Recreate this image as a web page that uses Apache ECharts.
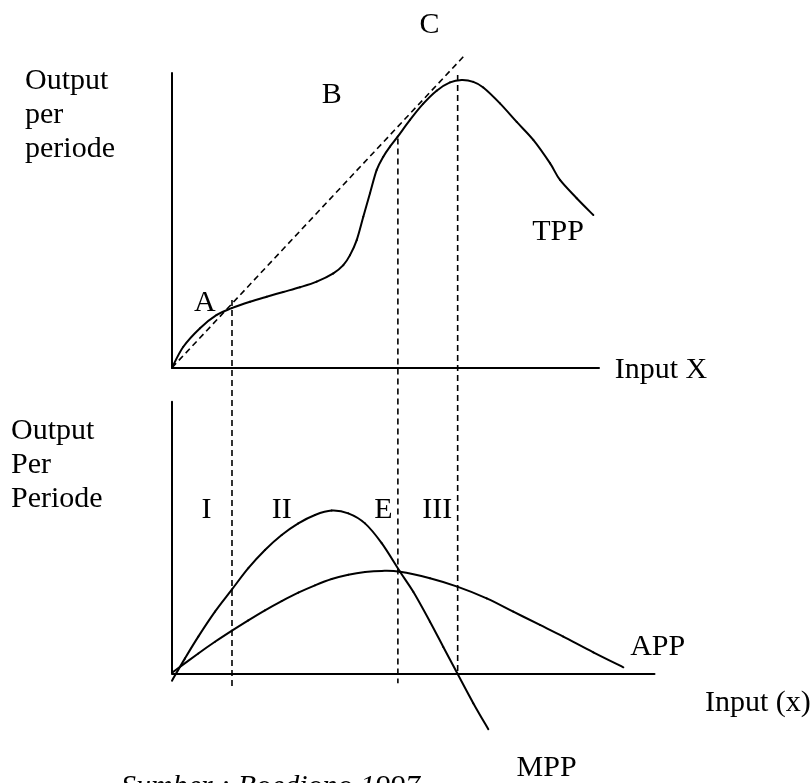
<!DOCTYPE html>
<html>
<head>
<meta charset="utf-8">
<script src="https://cdn.jsdelivr.net/npm/echarts@6/dist/echarts.min.js"></script>
<style>
html,body{margin:0;padding:0;background:#fff;}
#chart{width:812px;height:783px;}
</style>
</head>
<body>
<div id="chart"></div>
<script>
// ---- Top panel: Total Physical Product (TPP) ----
const tppX = [0, 2.65, 6.56, 10.47, 13.98, 18.27, 22.18, 26.07, 29.98, 33.89, 37.78, 40.12, 41.69, 43.26, 44.80, 46.37, 47.94, 49.48, 51.05, 52.86, 55.74, 58.85, 61.99, 65.11, 67.85, 70.56, 72.90, 76.81, 80.73, 84.61, 88.52, 90.87, 94.78, 98.67];
const tppY = [0, 7.1, 13.4, 17.9, 20.2, 22.4, 24.1, 25.7, 27.3, 29.2, 32.0, 34.8, 38.2, 43.3, 51.2, 59.2, 67.1, 71.6, 75.0, 78.4, 84.1, 89.6, 94.0, 96.8, 97.6, 97.0, 95.1, 89.7, 83.4, 77.3, 69.4, 63.7, 57.5, 51.8];
// tangent ray from origin through A
const tangentX = [0, 68.6];
const tangentY = [0, 106.1];
// vertical stage boundaries (x), their top and bottom ends (top-panel units)
const guideX = [14.05, 52.9, 66.9];
const guideTop = [23.0, 77.8, 99.3];
const guideBottom = [-108.2, -107.1, -103.8];

// ---- Bottom panel: MPP and APP ----
const mppX = [0, 3.04, 6.16, 10.07, 14.05, 17.87, 21.78, 25.69, 29.58, 33.49, 37.40, 41.29, 45.20, 49.11, 53.40, 56.51, 60.42, 63.54, 66.81, 70.56, 74.08];
const mppY = [-2.7, 5.5, 13.5, 22.7, 30.9, 38.7, 45.4, 50.9, 55.2, 58.3, 59.9, 58.9, 55.2, 47.9, 37.4, 30.0, 19.0, 9.7, 0, -11.0, -20.6];
const appX = [0, 6.16, 10.07, 14.05, 17.87, 21.78, 25.69, 29.58, 33.49, 37.40, 41.29, 45.20, 49.11, 53.40, 60.42, 66.81, 73.70, 79.93, 86.18, 91.64, 98.67, 105.70];
const appY = [0.2, 7.3, 11.6, 15.7, 19.5, 23.2, 26.6, 29.7, 32.4, 34.7, 36.3, 37.3, 37.7, 37.4, 35.0, 31.9, 27.6, 22.7, 17.8, 13.5, 7.7, 2.2];

// ---- Annotations (text, x, y in panel units) ----
const topNotes = ['A', 'B', 'C', 'TPP'];
const topNotesX = [7.7, 37.4, 60.3, 90.4];
const topNotesY = [21.8, 92.5, 116.3, 46.0];
const topAxisName = 'Input X';
const bottomNotes = ['I', 'II', 'E', 'III'];
const bottomNotesX = [8.1, 25.7, 49.5, 62.1];
const bottomNotesY = [60.1, 60.1, 60.1, 60.1];
const bottomLeftNotes = ['APP', 'Input (x)', 'MPP'];
const bottomLeftNotesX = [107.3, 124.8, 80.7];
const bottomLeftNotesY = [9.5, -10.8, -34.9];
const topYTitle = 'Output\nper\nperiode';
const bottomYTitle = 'Output\nPer\nPeriode';
const caption = 'Sumber : Boediono 1997';

const FONT = '"Liberation Serif", "Times New Roman", serif';
const FS = 30;

function pairs(xs, ys) { return xs.map((x, i) => [x, ys[i]]); }

const axisCommon = {
  type: 'value', min: 0,
  axisLine: { show: true, onZero: false, lineStyle: { color: '#000', width: 2 } },
  axisTick: { show: false }, axisLabel: { show: false }, splitLine: { show: false }
};

const dashStyle = { color: '#000', width: 1.6, type: [6, 4] };

// Smooth curve: each data item draws the Catmull-Rom segment to the next point,
// positions come from the axes via api.coord.
function curveSeries(ax, xs, ys) {
  const data = pairs(xs, ys);
  return {
    type: 'custom', coordinateSystem: 'cartesian2d', xAxisIndex: ax, yAxisIndex: ax,
    clip: false, silent: true, data: data,
    renderItem: function (params, api) {
      const i = params.dataIndex;
      const n = data.length;
      if (i >= n - 1) return null;
      const p = k => api.coord(data[Math.max(0, Math.min(n - 1, k))]);
      const p0 = p(i - 1), p1 = p(i), p2 = p(i + 1), p3 = p(i + 2);
      return {
        type: 'bezierCurve',
        shape: {
          x1: p1[0], y1: p1[1], x2: p2[0], y2: p2[1],
          cpx1: p1[0] + (p2[0] - p0[0]) / 6, cpy1: p1[1] + (p2[1] - p0[1]) / 6,
          cpx2: p2[0] - (p3[0] - p1[0]) / 6, cpy2: p2[1] - (p3[1] - p1[1]) / 6
        },
        style: { stroke: '#000', lineWidth: 2, fill: null, lineCap: 'round' }
      };
    }
  };
}

const series = [];
series.push(curveSeries(0, tppX, tppY));
series.push({ type: 'line', xAxisIndex: 0, yAxisIndex: 0, data: pairs(tangentX, tangentY), showSymbol: false, symbol: 'none', lineStyle: dashStyle, clip: false, silent: true });
guideX.forEach((gx, i) => {
  series.push({ type: 'line', xAxisIndex: 0, yAxisIndex: 0, data: [[gx, guideTop[i]], [gx, guideBottom[i]]], showSymbol: false, symbol: 'none', lineStyle: dashStyle, clip: false, silent: true });
});
series.push(curveSeries(1, mppX, mppY));
series.push(curveSeries(1, appX, appY));

function labelSeries(ax, names, xs, ys, align) {
  return {
    type: 'scatter', xAxisIndex: ax, yAxisIndex: ax, symbolSize: 0, clip: false, silent: true,
    itemStyle: { color: '#000', opacity: 1 },
    data: names.map((n, i) => ({ name: n, value: [xs[i], ys[i]] })),
    label: { show: true, position: 'inside', formatter: '{b}', align: align, verticalAlign: 'middle', color: '#000', opacity: 1, fontFamily: FONT, fontSize: FS }
  };
}
series.push(labelSeries(0, topNotes, topNotesX, topNotesY, 'center'));
series.push(labelSeries(0, [topAxisName], [103.7], [-0.8], 'left'));
series.push(labelSeries(1, bottomNotes, bottomNotesX, bottomNotesY, 'center'));
series.push(labelSeries(1, bottomLeftNotes, bottomLeftNotesX, bottomLeftNotesY, 'left'));

const chart = echarts.init(document.getElementById('chart'), null, { renderer: 'canvas' });
chart.setOption({
  animation: false,
  backgroundColor: '#fff',
  grid: [
    { left: 172, top: 73, width: 427, height: 294.7 },
    { left: 172, top: 401.7, width: 482.5, height: 271.6 }
  ],
  xAxis: [
    Object.assign({}, axisCommon, { gridIndex: 0, max: 100 }),
    Object.assign({}, axisCommon, { gridIndex: 1, max: 113 })
  ],
  yAxis: [
    Object.assign({}, axisCommon, { gridIndex: 0, max: 100 }),
    Object.assign({}, axisCommon, { gridIndex: 1, max: 100 })
  ],
  graphic: [
    { type: 'text', left: 25, top: 64, silent: true, style: { text: topYTitle, font: FS + 'px ' + FONT, lineHeight: 34, fill: '#000' } },
    { type: 'text', left: 11, top: 414, silent: true, style: { text: bottomYTitle, font: FS + 'px ' + FONT, lineHeight: 34, fill: '#000' } },
    { type: 'text', left: 121, top: 770, silent: true, style: { text: caption, font: 'italic ' + FS + 'px ' + FONT, lineHeight: 34, fill: '#000' } }
  ],
  series: series
});
</script>
</body>
</html>
